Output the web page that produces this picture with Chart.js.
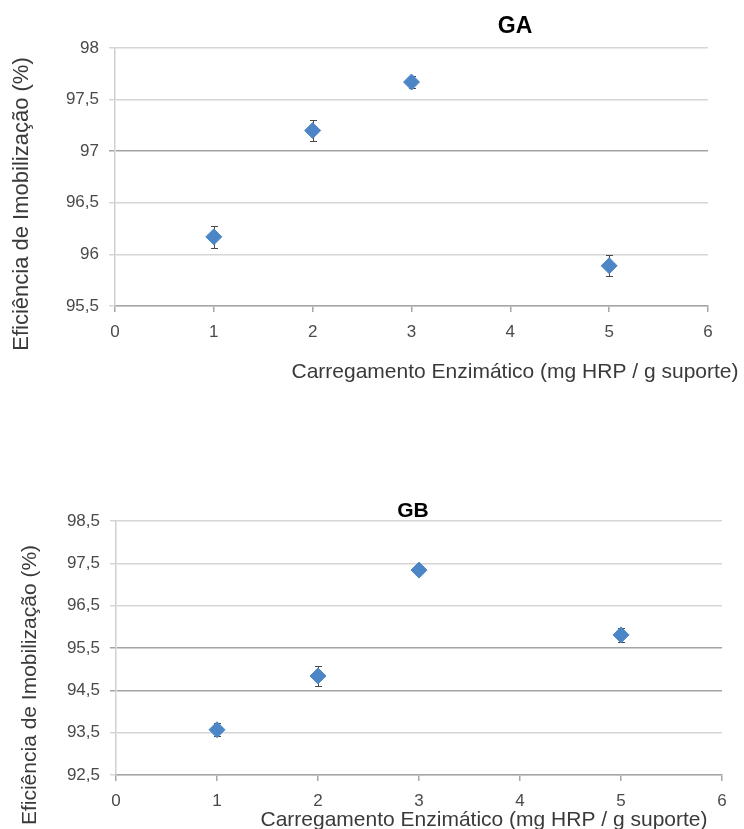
<!DOCTYPE html>
<html>
<head>
<meta charset="utf-8">
<script src="https://cdn.jsdelivr.net/npm/chart.js@4.4.1/dist/chart.umd.min.js"></script>
<style>
  html, body { margin: 0; padding: 0; background: #fff; }
  .wrap { position: absolute; left: 0; width: 744px; }
  #wrapA { top: 0; height: 400px; }
  #wrapB { top: 470px; height: 359px; }
</style>
</head>
<body>
<div class="wrap" id="wrapA"><canvas id="chartA" width="744" height="400"></canvas></div>
<div class="wrap" id="wrapB"><canvas id="chartB" width="744" height="359"></canvas></div>
<script>
// data
const loading = [1, 2, 3, 5]
const gaValues = [96.17, 97.20, 97.67, 95.89]
const gaErrors = [0.11, 0.10, 0.06, 0.10]
const gbValues = [93.57, 94.84, 97.34, 95.81]
const gbErrors = [0.16, 0.245, 0.08, 0.16]
const xTicks = [0, 1, 2, 3, 4, 5, 6]
const gaTicks = [95.5, 96, 96.5, 97, 97.5, 98]
const gbTicks = [92.5, 93.5, 94.5, 95.5, 96.5, 97.5, 98.5]
const yTitle = 'Eficiência de Imobilização (%)'
const xTitle = 'Carregamento Enzimático (mg HRP / g suporte)'

// gridlines that came out darker in the original
const gaDarkGrid = [97]
const gbDarkGrid = [95.5, 94.5]

const FONT = '"Liberation Sans", Arial, sans-serif'
const BLUE = '#4c86c6'

const errorBars = {
  id: 'errorBars',
  beforeDatasetsDraw(chart) {
    const { ctx, scales: { x, y } } = chart
    chart.data.datasets.forEach(ds => {
      if (!ds.errors) return
      ctx.save()
      ctx.strokeStyle = '#4a4a4a'
      ctx.lineWidth = 1
      ds.data.forEach((p, i) => {
        const px = Math.round(x.getPixelForValue(p.x)) + 0.5
        const top = Math.round(y.getPixelForValue(p.y + ds.errors[i])) + 0.5
        const bot = Math.round(y.getPixelForValue(p.y - ds.errors[i])) + 0.5
        ctx.beginPath()
        ctx.moveTo(px, top); ctx.lineTo(px, bot)
        ctx.moveTo(px - 3.5, top); ctx.lineTo(px + 3.5, top)
        ctx.moveTo(px - 3.5, bot); ctx.lineTo(px + 3.5, bot)
        ctx.stroke()
      })
      ctx.restore()
    })
  }
}

const chartTexts = {
  id: 'chartTexts',
  afterDraw(chart, args, opts) {
    const ctx = chart.ctx
    opts.items.forEach(t => {
      ctx.save()
      ctx.font = t.font
      ctx.fillStyle = t.color
      ctx.textAlign = 'center'
      ctx.textBaseline = 'alphabetic'
      ctx.translate(t.x, t.y)
      if (t.rotate) ctx.rotate(-Math.PI / 2)
      ctx.fillText(t.text, 0, 0)
      ctx.restore()
    })
  }
}

let makeChart = (id, values, errors, yTickValues, darkGrid, box, texts) => {
  return new Chart(document.getElementById(id), {
    type: 'scatter',
    data: {
      datasets: [{
        data: loading.map((x, i) => ({ x: x, y: values[i] })),
        errors: errors,
        pointStyle: 'rectRot',
        pointRadius: 8,
        pointHoverRadius: 8,
        backgroundColor: BLUE,
        borderColor: BLUE,
        borderWidth: 1
      }]
    },
    options: {
      responsive: false,
      animation: false,
      layout: { padding: { left: 0, right: box.right, top: box.top, bottom: 0 } },
      plugins: {
        legend: { display: false },
        tooltip: { enabled: false },
        chartTexts: { items: texts }
      },
      scales: {
        x: {
          type: 'linear',
          min: xTicks[0],
          max: xTicks[xTicks.length - 1],
          afterBuildTicks: s => { s.ticks = xTicks.map(v => ({ value: v })) },
          afterFit: s => { s.height = box.xHeight },
          grid: { drawOnChartArea: false, drawTicks: true, tickLength: 6, color: '#a6a6a6', lineWidth: 1.5 },
          border: { color: '#a6a6a6', width: 1.5 },
          ticks: { padding: 10, color: '#4a4a4a', font: { family: FONT, size: 17 } }
        },
        y: {
          type: 'linear',
          min: yTickValues[0],
          max: yTickValues[yTickValues.length - 1],
          afterBuildTicks: s => { s.ticks = yTickValues.map(v => ({ value: v })) },
          afterFit: s => { s.width = box.left },
          grid: {
            tickLength: 6,
            lineWidth: 1.5,
            color: c => darkGrid.includes(c.tick && c.tick.value) ? '#a3a3a3' : '#d6d6d6'
          },
          border: { color: '#d0d0d0', width: 1.5 },
          ticks: {
            padding: 10,
            color: '#4a4a4a',
            font: { family: FONT, size: 17 },
            callback: v => String(v).replace('.', ',')
          }
        }
      }
    },
    plugins: [errorBars, chartTexts]
  })
}

makeChart('chartA', gaValues, gaErrors, gaTicks, gaDarkGrid,
  { left: 115, right: 36, top: 48, xHeight: 94 },
  [
    { text: 'GA', x: 515, y: 33, font: 'bold 23px ' + FONT, color: '#000' },
    { text: xTitle, x: 515, y: 378, font: '21px ' + FONT, color: '#3a3a3a' },
    { text: yTitle, x: 28, y: 204, font: '22px ' + FONT, color: '#3a3a3a', rotate: true }
  ])

makeChart('chartB', gbValues, gbErrors, gbTicks, gbDarkGrid,
  { left: 116, right: 22, top: 51, xHeight: 54 },
  [
    { text: 'GB', x: 413, y: 47, font: 'bold 21px ' + FONT, color: '#000' },
    { text: xTitle, x: 484, y: 356, font: '21px ' + FONT, color: '#3a3a3a' },
    { text: yTitle, x: 36, y: 215, font: '21px ' + FONT, color: '#3a3a3a', rotate: true }
  ])
</script>
</body>
</html>
